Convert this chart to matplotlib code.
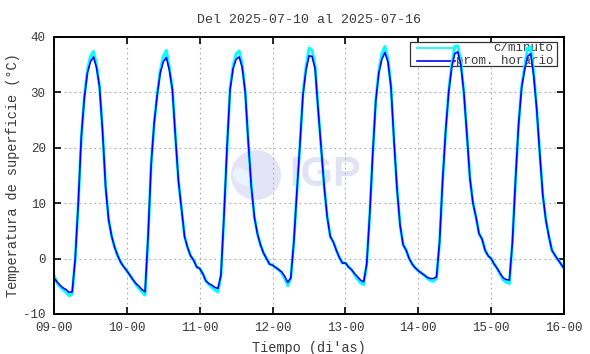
import numpy as np
import matplotlib.pyplot as plt
from matplotlib.patches import Rectangle, Ellipse, Wedge

# hourly mean surface temperature (prom. horario), one list per day
d09 = [-3.5, -4.2, -4.8, -5.3, -5.6, -6.1, -6.0, 0.0, 10.0, 22.0, 29.0, 33.5,
       35.5, 36.4, 34.5, 31.0, 23.0, 13.0, 7.0, 4.0, 2.0, 0.5, -0.7, -1.5]
d10 = [-2.2, -3.0, -3.8, -4.5, -5.0, -5.6, -6.0, 4.0, 17.0, 24.5, 29.5, 33.5,
       35.5, 36.3, 34.0, 30.5, 22.0, 14.0, 9.0, 4.0, 2.0, 0.5, -0.3, -1.5]
d11 = [-1.8, -2.7, -4.0, -4.5, -4.8, -5.2, -5.4, -3.0, 7.8, 20.0, 30.5, 34.3,
       36.0, 36.4, 34.5, 30.0, 21.0, 13.0, 7.5, 4.5, 2.5, 1.0, 0.0, -1.0]
d12 = [-1.2, -1.6, -2.0, -2.4, -3.2, -4.3, -3.5, 3.0, 12.0, 20.5, 29.5, 34.0,
       36.6, 36.5, 34.3, 27.0, 20.0, 13.0, 7.5, 4.0, 3.0, 1.5, 0.2, -0.8]
d13 = [-0.8, -1.5, -2.0, -2.7, -3.3, -3.9, -4.2, -1.0, 8.0, 19.0, 28.5, 33.5,
       36.0, 37.2, 35.5, 31.0, 21.2, 12.5, 6.0, 2.5, 1.5, 0.0, -1.0, -1.7]
d14 = [-2.2, -2.6, -3.0, -3.4, -3.6, -3.6, -3.3, 3.0, 14.0, 23.0, 30.0, 34.5,
       37.0, 37.3, 35.0, 30.0, 22.5, 14.5, 10.0, 7.5, 4.5, 3.5, 1.5, 0.5]
d15 = [0.0, -1.0, -1.8, -2.7, -3.5, -3.8, -3.9, 3.0, 14.0, 24.0, 30.7, 34.0,
       36.5, 37.0, 33.0, 27.0, 19.0, 11.5, 7.0, 4.0, 1.5, 0.6, -0.2, -1.0]
last_hour = [-1.8]

# per-minute series (c/minuto), read at the same hours incl. its spikes
c09 = [-3.0, -4.4, -5.1, -5.6, -6.1, -6.7, -6.4, 0.0, 10.0, 22.0, 29.3, 34.0,
       36.5, 37.4, 35.0, 31.0, 23.0, 13.0, 7.0, 4.0, 2.0, 0.5, -0.7, -1.5]
c10 = [-2.2, -3.0, -3.8, -4.7, -5.4, -6.0, -6.6, 4.0, 17.0, 24.5, 29.8, 34.0,
       36.5, 37.6, 34.6, 30.5, 22.0, 14.0, 9.0, 4.0, 2.0, 0.5, -0.3, -1.5]
c11 = [-1.8, -2.7, -4.0, -4.7, -5.2, -5.7, -6.0, -3.0, 7.8, 20.0, 30.8, 34.8,
       37.0, 37.5, 35.0, 30.0, 21.0, 13.0, 7.5, 4.5, 2.5, 1.0, 0.0, -1.0]
c12 = [-1.2, -1.6, -2.0, -2.6, -3.6, -4.9, -3.5, 3.0, 12.0, 20.5, 29.8, 34.6,
       38.0, 37.6, 34.8, 27.0, 20.0, 13.0, 7.5, 4.0, 3.0, 1.5, 0.2, -0.8]
c13 = [-0.8, -1.5, -2.0, -2.9, -3.7, -4.4, -4.7, -1.0, 8.0, 19.0, 28.8, 34.0,
       37.0, 38.3, 36.0, 31.0, 21.2, 12.5, 6.0, 2.5, 1.5, 0.0, -1.0, -1.7]
c14 = [-2.2, -2.6, -3.0, -3.6, -4.0, -4.1, -3.6, 3.0, 14.0, 23.0, 30.3, 35.0,
       38.3, 38.4, 35.5, 30.0, 22.5, 14.5, 10.0, 7.5, 4.5, 3.5, 1.5, 0.5]
c15 = [0.0, -1.0, -1.8, -2.9, -3.9, -4.3, -4.5, 3.0, 14.0, 24.0, 31.0, 34.6,
       38.0, 38.2, 33.6, 27.0, 19.0, 11.5, 7.0, 4.0, 1.5, 0.6, -0.2, -1.0]

day_labels = ["09-00", "10-00", "11-00", "12-00", "13-00", "14-00", "15-00", "16-00"]
y_ticks = [-10, 0, 10, 20, 30, 40]

hourly = np.array(d09 + d10 + d11 + d12 + d13 + d14 + d15 + last_hour)
minute = np.array(c09 + c10 + c11 + c12 + c13 + c14 + c15 + last_hour)
hours = np.arange(len(hourly))

mono = ["Liberation Mono", "DejaVu Sans Mono"]
txt_col = "#3a3a3a"

fig = plt.figure(figsize=(5.9, 3.54), dpi=100)
ax = fig.add_axes([0.0915, 0.113, 0.8645, 0.7825])

# faint IGP watermark
ax.add_patch(Ellipse((0.396, 0.502), 50/510, 50/277, transform=ax.transAxes,
                     facecolor="#e4e4f6", edgecolor="none", zorder=0))
ax.add_patch(Wedge((0.396, 0.502), 0.045, 140, 260, width=0.03,
                   transform=ax.transAxes, facecolor="#e8f4ff",
                   edgecolor="none", zorder=0))
ax.text(0.462, 0.50, "IGP", transform=ax.transAxes, fontsize=30,
        fontweight="bold", family="Liberation Sans", color="#e2e2f4",
        ha="left", va="center", zorder=0)

ax.plot(hours, minute, color="#00ffff", lw=2.1, solid_joinstyle="round", zorder=2)
ax.plot(hours, hourly, color="#0000ff", lw=1.2, zorder=3)

ax.set_xlim(0, 168)
ax.set_ylim(-10, 40)
ax.set_xticks(np.arange(0, 169, 24))
ax.set_xticklabels(day_labels)
ax.set_yticks(y_ticks)
ax.set_yticklabels([str(v) for v in y_ticks])
ax.grid(True, color="#aaaaaa", lw=0.8, linestyle=(0, (1.5, 3)))
ax.tick_params(direction="in", length=5, width=1.2, top=True, right=True,
               labelsize=9, labelcolor=txt_col, pad=6)
for lab in ax.get_xticklabels() + ax.get_yticklabels():
    lab.set_family(mono)
for s in ax.spines.values():
    s.set_linewidth(1.4)
    s.set_zorder(6)

ax.set_title("Del 2025-07-10 al 2025-07-16", family=mono, fontsize=9.5,
             color=txt_col, pad=10)
ax.set_xlabel("Tiempo (di'as)", family=mono, fontsize=9.8, color=txt_col, labelpad=5)
ax.set_ylabel("Temperatura de superficie (°C)", family=mono, fontsize=9.8,
              color=txt_col, labelpad=2)

# gnuplot-like key, drawn under the data lines
bx0, bx1 = (410 - 54) / 510, (557 - 54) / 510
by0, by1 = (314 - 66) / 277, (314 - 42) / 277
ax.add_patch(Rectangle((bx0, by0), bx1 - bx0, by1 - by0, transform=ax.transAxes,
                       facecolor="white", edgecolor="#333333", lw=0.9, zorder=1.8))
for yy, col, name in [((314 - 48) / 277, "#00ffff", "c/minuto"),
                      ((314 - 61) / 277, "#0000ff", "prom. horario")]:
    ax.plot([(417 - 54) / 510, (455 - 54) / 510], [yy, yy], color=col, lw=1.2,
            transform=ax.transAxes, zorder=1.9)
    ax.text((553 - 54) / 510, yy, name, transform=ax.transAxes, ha="right",
            va="center", family=mono, fontsize=9, color=txt_col, zorder=1.9)

fig.savefig("out.png", dpi=100)
